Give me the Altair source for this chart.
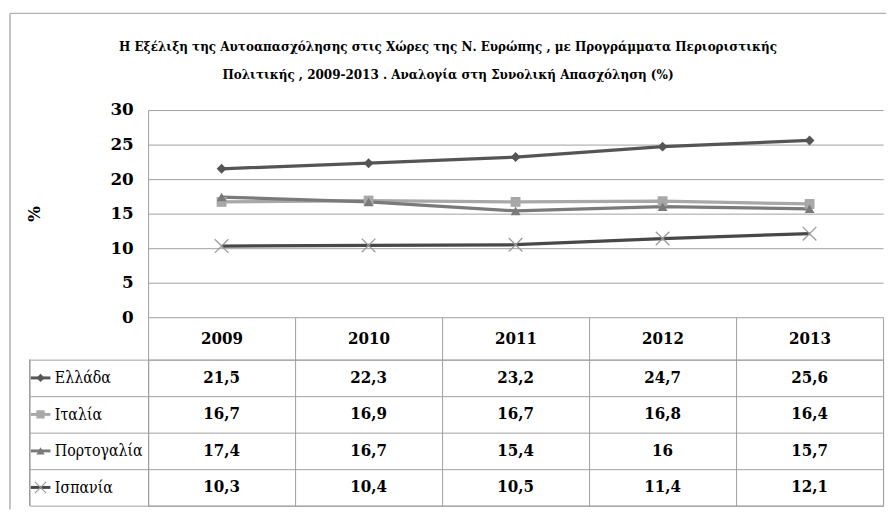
import altair as alt
import pandas as pd

F_C = "DejaVu Serif Condensed"
F_S = "DejaVu Serif"

years = ["2009", "2010", "2011", "2012", "2013"]
countries = ["Ελλάδα", "Ιταλία", "Πορτογαλία", "Ισπανία"]
greece = [21.5, 22.3, 23.2, 24.7, 25.6]
italy = [16.7, 16.9, 16.7, 16.8, 16.4]
portugal = [17.4, 16.7, 15.4, 16.0, 15.7]
spain = [10.3, 10.4, 10.5, 11.4, 12.1]
y_ticks = [0, 5, 10, 15, 20, 25, 30]
title_lines = [
    "Η Εξέλιξη  της Αυτοαπασχόλησης στις Χώρες της Ν. Ευρώπης , με Προγράμματα Περιοριστικής",
    "Πολιτικής , 2009-2013 .  Αναλογία στη Συνολική Απασχόληση (%)",
]
line_colors = ["#555555", "#a8a8a8", "#7a7a7a", "#484848"]
marker_colors = ["#555555", "#a8a8a8", "#7a7a7a", "#9a9a9a"]
shapes = ["diamond", "square", "triangle-up", "M-1,-1L1,1M-1,1L1,-1"]

rows = []
for c, vals in zip(countries, [greece, italy, portugal, spain]):
    for yr, v in zip(years, vals):
        rows.append({"country": c, "year": yr, "value": v})
df = pd.DataFrame(rows)

W = 745
GRID = "#a0a0a0"
FRAME = "#b0b0b0"

stroke_enc = alt.Stroke("country:N", scale=alt.Scale(domain=countries, range=line_colors), legend=None)
fill_enc = alt.Fill("country:N", scale=alt.Scale(domain=countries, range=marker_colors), legend=None)
shape_enc = alt.Shape("country:N", scale=alt.Scale(domain=countries, range=shapes), legend=None)

x_top = alt.X(
    "year:N",
    scale=alt.Scale(type="band", domain=years, paddingInner=0, paddingOuter=0),
    bandPosition=0.5,
    axis=alt.Axis(
        title=None, tickBand="extent", ticks=True, tickSize=43, tickColor=GRID,
        labelPadding=-21, labelBaseline="middle", labelAngle=0,
        labelFont=F_C, labelFontSize=17, labelFontWeight="bold", labelColor="black",
        domain=False, grid=False,
    ),
)
y_top = alt.Y(
    "value:Q",
    scale=alt.Scale(domain=[0, 30], nice=False),
    axis=alt.Axis(
        values=y_ticks, title="%", titleX=-115, titleY=105, titleAngle=-90,
        titleFont=F_S, titleFontSize=17, titleFontWeight="bold", titleColor="black",
        titleAlign="center", titleBaseline="middle",
        ticks=False, labelPadding=15, labelFont=F_S, labelFontSize=17,
        labelFontWeight="bold", labelColor="black",
        grid=True, gridColor=GRID, domain=True, domainColor=GRID,
    ),
)

base_top = alt.Chart(df).encode(x=x_top, y=y_top)
lines = base_top.mark_line(strokeWidth=3.3).encode(stroke=stroke_enc, detail="country:N")
pts = base_top.transform_filter(alt.datum.country != "Ισπανία").mark_point(
    filled=True, size=100, opacity=1
).encode(fill=fill_enc, shape=shape_enc)
xs = base_top.transform_filter(alt.datum.country == "Ισπανία").mark_point(
    filled=False, size=190, strokeWidth=1.3, color="#9a9a9a", opacity=1
).encode(shape=shape_enc)

one_row = alt.Chart(df).transform_filter(
    (alt.datum.country == "Ελλάδα") & (alt.datum.year == "2009")
)
frame_top = one_row.mark_rule(color=FRAME, strokeWidth=1.5).encode(
    x=alt.value(-140), x2=alt.value(748), y=alt.value(-98)
)
frame_left = one_row.mark_rule(color=FRAME, strokeWidth=1.5).encode(
    x=alt.value(-140), y=alt.value(-98), y2=alt.value(405)
)

top = alt.layer(frame_top, frame_left, lines, pts, xs).properties(
    width=W, height=210, view=alt.ViewBackground(stroke="transparent")
)

x_tab = alt.X(
    "year:N",
    scale=alt.Scale(type="band", domain=years, paddingInner=0, paddingOuter=0),
    axis=alt.Axis(title=None, labels=False, ticks=False, domain=False, grid=True,
                  tickBand="extent", gridColor=GRID),
)
y_tab = alt.Y(
    "country:N",
    scale=alt.Scale(type="band", domain=countries, paddingInner=0, paddingOuter=0),
    axis=alt.Axis(
        title=None, tickBand="extent", ticks=True, tickSize=120, tickColor=GRID,
        labelAlign="left", labelBaseline="middle", labelPadding=-25,
        labelFont=F_C, labelFontSize=16, labelColor="black",
        grid=True, gridColor=GRID, domain=True, domainColor=GRID,
    ),
)
tab_base = alt.Chart(df).encode(y=y_tab)
cells = tab_base.transform_calculate(
    label="replace(toString(datum.value), '.', ',')"
).mark_text(font=F_C, fontSize=17, fontWeight="bold", color="black").encode(
    x=x_tab, text="label:N"
)
glyph_data = tab_base.transform_filter(alt.datum.year == "2009")
stub = glyph_data.mark_rule(strokeWidth=3).encode(
    x=alt.value(-119), x2=alt.value(-99), stroke=stroke_enc
)
gpts = glyph_data.transform_filter(alt.datum.country != "Ισπανία").mark_point(
    filled=True, size=70, opacity=1
).encode(x=alt.value(-109), fill=fill_enc, shape=shape_enc)
gxs = glyph_data.transform_filter(alt.datum.country == "Ισπανία").mark_point(
    filled=False, size=130, strokeWidth=1.2, color="#9a9a9a", opacity=1
).encode(x=alt.value(-109), shape=shape_enc)
left_border = glyph_data.mark_rule(color=GRID).encode(
    x=alt.value(-120), y=alt.value(0), y2=alt.value(148)
)

table = alt.layer(cells, stub, gpts, gxs, left_border).properties(
    width=W, height=148, view=alt.ViewBackground(stroke=GRID)
)

chart = alt.vconcat(top, table, spacing=43, bounds="flush").properties(
    title=alt.TitleParams(
        text=title_lines, font=F_C, fontSize=13.5, fontWeight="bold", lineHeight=28,
        offset=-70, anchor="middle", color="black",
    ),
    padding={"left": 0, "top": 0, "right": 0, "bottom": 0},
).resolve_scale(x="independent", y="independent")

chart.save("out.html", embed_options={"renderer": "svg", "actions": False})
